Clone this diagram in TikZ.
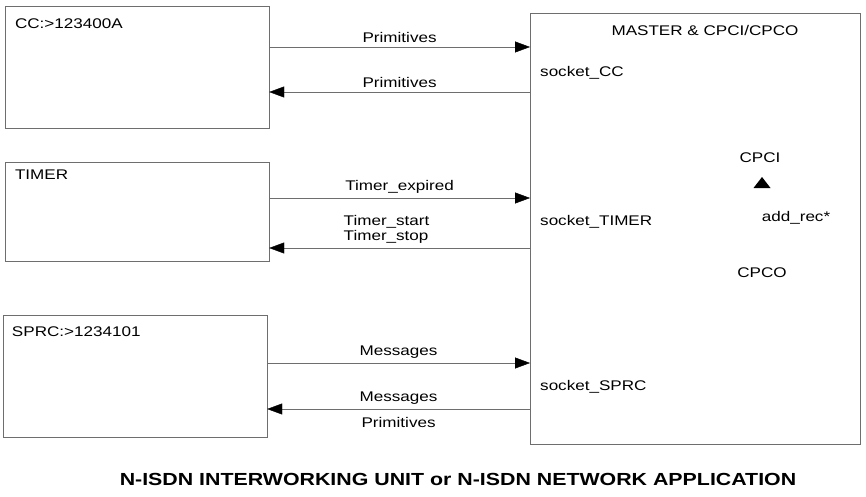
\documentclass[tikz,border=0pt]{standalone}
\usepackage{fontspec}
\setmainfont{Liberation Sans}[FakeStretch=1.22]
\usepackage{tikz}
\usetikzlibrary{positioning, arrows.meta}
\definecolor{scanGrey}{HTML}{6E6E6E}
\tikzset{
  unit/.style = {draw=scanGrey, thin, inner sep=0pt},
  tag/.style  = {font=\fontsize{14}{15}\selectfont, inner sep=0pt},
  msg/.style  = {font=\fontsize{14}{15}\selectfont, inner sep=0pt},
  fl/.style   = {-{Triangle[length=15pt, width=11pt, color=black, fill=black]}, draw=scanGrey, thin}
}

\begin{document}
\begin{tikzpicture}[x=1pt, y=-1pt, node distance=10pt]
  \useasboundingbox (0,0) rectangle (866,497);
  \node[unit, minimum width=264pt, minimum height=122pt] (cc) at (137,67) {};
  \node[unit, minimum width=264pt, minimum height=99pt] (timer) at (137,211.5) {};
  \node[unit, minimum width=264pt, minimum height=122pt] (sprc) at (135,376) {};
  \node[unit, minimum width=330pt, minimum height=431pt] (master) at (695,228.5) {};
  \node[tag, below right=13pt and 10pt of cc.north west] (ccName) {CC:>123400A};
  \node[tag, below right=8pt and 10pt of timer.north west] (timerName) {TIMER};
  \node[tag, below right=12pt and 9pt of sprc.north west] (sprcName) {SPRC:>1234101};
  \node[tag] (masterName) at (705,30) {MASTER \& CPCI/CPCO};
  \node[tag, anchor=west] (sockCC) at (540,73) {socket\_CC};
  \node[tag, anchor=west] (sockTimer) at (540,222) {socket\_TIMER};
  \node[tag, anchor=west] (sockSprc) at (540,387) {socket\_SPRC};
  \node[tag] (cpci) at (760,158) {CPCI};
  \node[tag] (cpco) at (762,273) {CPCO};
  \node[tag] (addRec) at (796,218) {add\_rec*};
  \coordinate (headTop) at (762,177);
  \fill (headTop) -- ++(8.5,11) -- ++(-17,0) -- cycle;
  \coordinate (ccIn) at (530,47);
  \coordinate (ccOut) at (530,92);
  \coordinate (timerIn) at (530,198);
  \coordinate (timerOut) at (530,248);
  \coordinate (sprcIn) at (530,363);
  \coordinate (sprcOut) at (530,409);
  \draw[fl] (cc.east |- ccIn) -- node[msg, above=4pt] (primIn) {Primitives} (ccIn);
  \draw[fl] (ccOut) -- node[msg, above=4pt] (primOut) {Primitives} (cc.east |- ccOut);
  \draw[fl] (timer.east |- timerIn) -- node[msg, above=4pt] (expired) {Timer\_expired} (timerIn);
  \draw[fl] (timerOut) -- node[msg, above=4pt, pos=0.55, align=left] (startStop) {Timer\_start\\Timer\_stop} (timer.east |- timerOut);
  \draw[fl] (sprc.east |- sprcIn) -- node[msg, above=4pt] (msgIn) {Messages} (sprcIn);
  \draw[fl] (sprcOut) -- node[msg, above=4pt] (msgOut) {Messages} node[msg, below=8pt] (primSprc) {Primitives} (sprc.east |- sprcOut);
  \node[font=\bfseries\fontsize{17.5}{20}\selectfont, inner sep=0pt] (appName) at (458,479) {N-ISDN INTERWORKING UNIT or N-ISDN NETWORK APPLICATION};
\end{tikzpicture}
\end{document}
